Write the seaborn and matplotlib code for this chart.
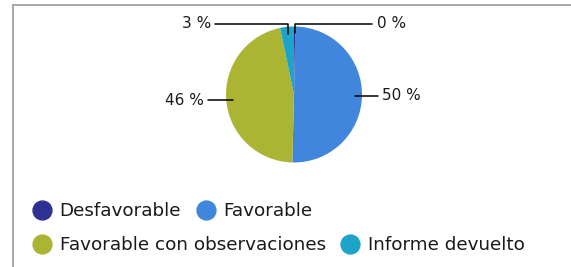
import matplotlib
matplotlib.use("Agg")
import matplotlib.pyplot as plt
import seaborn as sns
import numpy as np
from matplotlib.lines import Line2D

categories = ["Desfavorable", "Favorable", "Favorable con observaciones", "Informe devuelto"]
values = [0.3, 50.1, 46.3, 3.3]
labels = ["0 %", "50 %", "46 %", "3 %"]
colors = ["#2e3192", "#4186dd", "#abb533", "#1ea4c8"]

sns.set_theme(style="white")
plt.rcParams['font.family'] = ['DejaVu Sans']

W, H = 571, 267
fig = plt.figure(figsize=(W / 100, H / 100), dpi=100)
fig.patch.set_facecolor("white")

# frame lines (top and left)
border = "#a0a0a0"
fig.add_artist(Line2D([13 / W, 1], [1 - 4.8 / H, 1 - 4.8 / H], color=border, lw=1.3, transform=fig.transFigure))
fig.add_artist(Line2D([13 / W, 13 / W], [0, 1 - 4.8 / H], color=border, lw=1.3, transform=fig.transFigure))

cx, cy, r = 294, 94.5, 68
ax = fig.add_axes([(cx - r) / W, (H - cy - r) / H, 2 * r / W, 2 * r / H])
wedges, _ = ax.pie(values, colors=colors, startangle=90, counterclock=False,
                   radius=1, wedgeprops=dict(linewidth=0))
ax.set_xlim(-1, 1)
ax.set_ylim(-1, 1)
ax.set_aspect('equal')
ax.axis('off')

lab_fs = 11
for k, (w, lab) in enumerate(zip(wedges, labels)):
    th = np.deg2rad((w.theta1 + w.theta2) / 2)
    x0, y0 = 0.9 * np.cos(th), 0.9 * np.sin(th)
    if (w.theta2 - w.theta1) < 18:
        ytop = 1.04
        side = 1 if (k == 0 or x0 > 0) else -1
        xend = 1.14 if side > 0 else -1.16
        ax.plot([x0, x0, xend], [y0, ytop, ytop], color="black", lw=1.1, clip_on=False)
        ax.text(1.22 if side > 0 else -1.22, ytop, lab, ha="left" if side > 0 else "right",
                va="center", fontsize=lab_fs, color="#1a1a1a", clip_on=False)
    else:
        side = 1 if x0 > 0 else -1
        xend = 1.23 if side > 0 else -1.265
        ax.plot([x0, xend], [y0, y0], color="black", lw=1.1, clip_on=False)
        ax.text(1.29 if side > 0 else -1.32, y0, lab, ha="left" if side > 0 else "right",
                va="center", fontsize=lab_fs, color="#1a1a1a", clip_on=False)

def make_handle(c):
    return Line2D([], [], marker="o", linestyle="none", markersize=13.6,
                  markerfacecolor=c, markeredgecolor=c)

rows = [(0, 1, 211), (2, 3, 245.5)]
for i, j, ypix in rows:
    hs = [make_handle(colors[i]), make_handle(colors[j])]
    leg = fig.legend(hs, [categories[i], categories[j]], loc="center left",
                     bbox_to_anchor=(31.2 / W, 1 - ypix / H), ncol=2, frameon=False,
                     fontsize=13.2, handlelength=1.18, handletextpad=0.37,
                     columnspacing=0.76, borderpad=0, borderaxespad=0)
    for t in leg.get_texts():
        t.set_color("#1a1a1a")

fig.savefig("out.png", dpi=100, facecolor="white")
